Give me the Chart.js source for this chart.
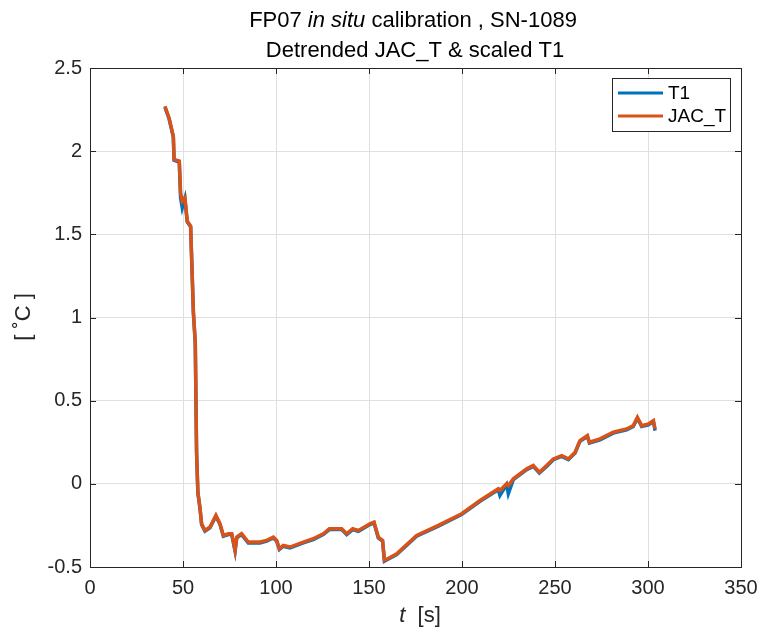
<!DOCTYPE html>
<html>
<head>
<meta charset="utf-8">
<title>FP07 in situ calibration</title>
<script src="https://cdn.jsdelivr.net/npm/chart.js@4"></script>
<style>
  html, body { margin: 0; padding: 0; background: #fff; }
  canvas { display: block; }
</style>
</head>
<body>
<canvas id="myChart" width="761" height="628"></canvas>
<script>
"use strict"

// time axis [s]
const timeS = [40.3, 42.5, 44.8, 45.2, 48, 48.7, 49.6, 51, 52.3, 54.1, 55.6, 56.6, 57.3, 58, 59.1, 60,
    61.8, 64.5, 67.7, 69.9, 71.7, 74.4, 76.2, 78, 78.9, 81.5, 85.1, 91.4, 95, 98.6, 100.4, 101.8,
    103.9, 107.5, 114.7, 120, 125.4, 128.7, 135.3, 138, 141.2, 144.3, 150.5, 152.7, 155, 157.3,
    158.3, 160, 164.9, 175.6, 187.3, 199.8, 209.7, 219.5, 220.4, 224, 224.9, 227.6, 234.8, 238.3,
    241.6, 245.5, 249.1, 253.6, 257.2, 260.8, 263.4, 267.4, 268.5, 274.2, 281.3, 288.5, 292.1,
    294.3, 296.6, 300.2, 302.9, 303.8];

// detrended JAC_T [deg C]
const jacT = [2.27, 2.20, 2.09, 1.95, 1.94, 1.75, 1.70, 1.72, 1.58, 1.55, 1.03, 0.85, 0.19, -0.05,
    -0.14, -0.24, -0.28, -0.26, -0.19, -0.24, -0.31, -0.30, -0.30, -0.40, -0.32, -0.30, -0.35, -0.35,
    -0.34, -0.32, -0.34, -0.39, -0.37, -0.38, -0.35, -0.33, -0.30, -0.27, -0.27, -0.30, -0.27, -0.28,
    -0.24, -0.23, -0.32, -0.34, -0.46, -0.45, -0.42, -0.31, -0.25, -0.18, -0.10, -0.03, -0.04, 0.00,
    -0.01, 0.03, 0.09, 0.11, 0.07, 0.11, 0.15, 0.17, 0.15, 0.19, 0.26, 0.29, 0.25, 0.27, 0.31, 0.33,
    0.35, 0.40, 0.35, 0.36, 0.38, 0.33];

// scaled T1 [deg C], mostly hidden under JAC_T
const t1 = [2.265, 2.195, 2.085, 1.945, 1.935, 1.72, 1.66, 1.715, 1.575, 1.545, 1.025, 0.845, 0.185,
    -0.055, -0.145, -0.245, -0.285, -0.265, -0.195, -0.245, -0.315, -0.305, -0.305, -0.405, -0.325,
    -0.305, -0.355, -0.355, -0.345, -0.325, -0.345, -0.395, -0.375, -0.385, -0.355, -0.335, -0.305,
    -0.275, -0.275, -0.305, -0.275, -0.285, -0.245, -0.235, -0.325, -0.345, -0.465, -0.455, -0.425,
    -0.315, -0.255, -0.185, -0.105, -0.035, -0.07, -0.005, -0.06, 0.025, 0.085, 0.105, 0.065, 0.105,
    0.145, 0.165, 0.145, 0.185, 0.255, 0.285, 0.245, 0.265, 0.305, 0.325, 0.345, 0.395, 0.345, 0.355,
    0.375, 0.32];

const xTicks = [0, 50, 100, 150, 200, 250, 300, 350];
const yTicks = [-0.5, 0, 0.5, 1, 1.5, 2, 2.5];

const seriesNames = ['T1', 'JAC_T'];
const seriesColors = ['#0072BD', '#D95319'];

const FONT = '"Liberation Sans", Arial, Helvetica, sans-serif';
const INK = '#262626';

function toPoints(xs, ys) {
    let pts = [];
    for (let i = 0; i < xs.length; i++) {
        pts.push({ x: xs[i], y: ys[i] });
    }
    return pts;
}

// draws pieces of text in a row, each with its own style
function drawRuns(ctx, runs, cx, cy) {
    let total = 0;
    for (let r of runs) {
        ctx.font = r.font;
        total += ctx.measureText(r.text).width;
    }
    let x = cx - total / 2;
    ctx.textBaseline = 'middle';
    ctx.textAlign = 'left';
    for (let r of runs) {
        ctx.font = r.font;
        ctx.fillText(r.text, x, cy);
        x += ctx.measureText(r.text).width;
    }
}

const matlabFrame = {
    id: 'matlabFrame',
    afterDraw(chart) {
        const ctx = chart.ctx;
        const a = chart.chartArea;
        const xs = chart.scales.x;
        const ys = chart.scales.y;
        const tl = 6;
        ctx.save();
        ctx.strokeStyle = INK;
        ctx.lineWidth = 1;
        ctx.beginPath();
        for (let v of xTicks) {
            let px = Math.round(xs.getPixelForValue(v)) + 0.5;
            ctx.moveTo(px, a.bottom); ctx.lineTo(px, a.bottom - tl);
            ctx.moveTo(px, a.top); ctx.lineTo(px, a.top + tl);
        }
        for (let v of yTicks) {
            let py = Math.round(ys.getPixelForValue(v)) + 0.5;
            ctx.moveTo(a.left, py); ctx.lineTo(a.left + tl, py);
            ctx.moveTo(a.right, py); ctx.lineTo(a.right - tl, py);
        }
        ctx.stroke();
        ctx.strokeRect(Math.round(a.left) + 0.5, Math.round(a.top) + 0.5,
            Math.round(a.right - a.left), Math.round(a.bottom - a.top));

        // legend
        const lx = 612, ly = 78, lw = 118, lh = 53;
        ctx.fillStyle = '#fff';
        ctx.fillRect(lx, ly, lw, lh);
        ctx.strokeRect(lx + 0.5, ly + 0.5, lw, lh);
        for (let i = 0; i < seriesNames.length; i++) {
            let yy = ly + 15 + i * 23;
            ctx.strokeStyle = seriesColors[i];
            ctx.lineWidth = 3;
            ctx.beginPath();
            ctx.moveTo(618, yy); ctx.lineTo(663, yy);
            ctx.stroke();
            ctx.fillStyle = '#000';
            ctx.font = '19px ' + FONT;
            ctx.textAlign = 'left';
            ctx.textBaseline = 'middle';
            ctx.fillText(seriesNames[i], 668, yy + 1);
        }

        // titles and axis labels
        ctx.fillStyle = '#000';
        drawRuns(ctx, [
            { text: 'FP07 ', font: '22px ' + FONT },
            { text: 'in situ', font: 'italic 22px ' + FONT },
            { text: ' calibration , SN-1089', font: '22px ' + FONT }
        ], 413, 21);
        drawRuns(ctx, [
            { text: 'Detrended JAC_T & scaled T1', font: '22px ' + FONT }
        ], 415, 51);
        ctx.fillStyle = INK;
        drawRuns(ctx, [
            { text: 't', font: 'italic 22px ' + FONT },
            { text: '  [s]', font: '22px ' + FONT }
        ], 420, 616);
        ctx.translate(24, 317);
        ctx.rotate(-Math.PI / 2);
        drawRuns(ctx, [
            { text: '[ \u02DAC ]', font: '22px ' + FONT }
        ], 0, 0);
        ctx.restore();
    }
};

const data = {
    datasets: [{
        label: seriesNames[1],
        data: toPoints(timeS, jacT),
        borderColor: seriesColors[1],
        borderWidth: 3.5,
        pointRadius: 0,
        tension: 0,
        order: 0
    }, {
        label: seriesNames[0],
        data: toPoints(timeS, t1),
        borderColor: seriesColors[0],
        borderWidth: 3.5,
        pointRadius: 0,
        tension: 0,
        order: 1
    }]
};

const config = {
    type: 'line',
    data: data,
    options: {
        responsive: false,
        animation: false,
        devicePixelRatio: 1,
        layout: { padding: { top: 68, right: 20, left: 0, bottom: 0 } },
        plugins: {
            legend: { display: false },
            tooltip: { enabled: false }
        },
        scales: {
            x: {
                type: 'linear',
                min: 0,
                max: 350,
                afterBuildTicks: (scale) => { scale.ticks = xTicks.map(v => ({ value: v })); },
                afterFit: (scale) => {
                    scale.height = 61;
                    scale.paddingLeft = 0;
                    scale.paddingRight = 0;
                },
                grid: { color: '#dfdfdf', drawTicks: false },
                border: { display: false },
                ticks: { color: INK, padding: 9, font: { family: FONT, size: 20 }, maxRotation: 0 }
            },
            y: {
                type: 'linear',
                min: -0.5,
                max: 2.5,
                afterBuildTicks: (scale) => { scale.ticks = yTicks.map(v => ({ value: v })); },
                afterFit: (scale) => { scale.width = 90; },
                grid: { color: '#dfdfdf', drawTicks: false },
                border: { display: false },
                ticks: {
                    color: INK, padding: 8, font: { family: FONT, size: 20 },
                    callback: (value) => String(value)
                }
            }
        }
    },
    plugins: [matlabFrame]
};

let canvasChart = document.getElementById('myChart');
const myChart = new Chart(canvasChart, config);
</script>
</body>
</html>
